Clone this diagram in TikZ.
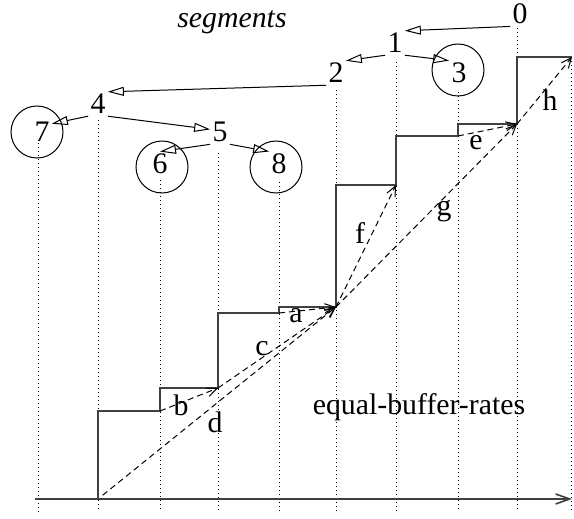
\documentclass[tikz,border=0pt]{standalone}
\usepackage{fontspec}
\setmainfont{Liberation Serif}
\usetikzlibrary{arrows.meta}
\begin{document}
\begin{tikzpicture}[x=0.5pt,y=-0.5pt,
  lab/.style={inner sep=1pt, font=\fontsize{14.9}{17}\selectfont},
  circ/.style={draw, circle, minimum size=26pt, inner sep=0pt, line width=0.5pt},
  dotline/.style={line width=0.5pt, dash pattern=on 0.5pt off 1.5pt},
  stair/.style={line width=0.8pt, black!75},
  dasharrow/.style={line width=0.5pt, dash pattern=on 3pt off 2pt, -{Straight Barb[length=5pt,width=4.5pt]}},
  tarrow/.style={line width=0.5pt, -{Triangle[open,length=8pt,width=4.5pt]}},
  axis/.style={line width=0.8pt, black!75, -{Straight Barb[length=7pt,width=5pt]}}
  ]
\useasboundingbox (0,0) rectangle (574,519);

% vertical dotted lines
\draw[dotline] (38,143) -- (38,512);
\draw[dotline] (98,120) -- (98,512);
\draw[dotline] (160,180) -- (160,512);
\draw[dotline] (218,153) -- (218,512);
\draw[dotline] (279,182) -- (279,512);
\draw[dotline] (336,90) -- (336,512);
\draw[dotline] (396,62) -- (396,512);
\draw[dotline] (458,92) -- (458,512);
\draw[dotline] (517,28) -- (517,512);
\draw[dotline] (571.5,57) -- (571.5,512);

% tree
\node[lab] (n0) at (520,14) {0};
\node[lab] (n1) at (395,43) {1};
\node[lab] (n2) at (336,73) {2};
\node[lab] (n3) at (459,73) {3};
\node[circ] (c3) at (458,70) {};
\node[lab] (n4) at (98,104) {4};
\node[lab] (n5) at (220,132) {5};
\node[lab] (n6) at (160,164) {6};
\node[circ] (c6) at (162,167) {};
\node[lab] (n7) at (42,132) {7};
\node[circ] (c7) at (37,132) {};
\node[lab] (n8) at (279,164) {8};
\node[circ] (c8) at (276,167) {};
\node[lab, font=\fontsize{14.9}{17}\selectfont\itshape] (seg) at (232,22) {segments};

\draw[tarrow] (n0.south west) -- (n1.north east);
\draw[tarrow] (n1.south west) -- (n2.north east);
\draw[tarrow] (n1.south east) -- (n3.north west);
\draw[tarrow] (n2.south west) -- (n4.north east);
\draw[tarrow] (n4.south west) -- (n7.40);
\draw[tarrow] (n4.south east) -- (n5.165);
\draw[tarrow] (n5.south west) -- (n6.north);
\draw[tarrow] (n5.south east) -- (n8.north west);

% staircase
\coordinate (s0) at (98,499);
\coordinate (s1) at (160,411);
\coordinate (s2) at (218,388);
\coordinate (s3) at (279,313);
\coordinate (s4) at (336,307);
\coordinate (s5) at (396,185);
\coordinate (s6) at (458,136);
\coordinate (s7) at (517,124);
\coordinate (s8) at (572,57);
\draw[stair] (s0) |- (s1) |- (s2) |- (s3) |- (s4) |- (s5) |- (s6) |- (s7) |- (s8);

% axis
\coordinate (ax0) at (35,499);
\coordinate (ax1) at (572,499);
\draw[axis] (ax0) -- (ax1);

% dashed arrows
\draw[dasharrow] (s1) -- (s2);
\draw[dasharrow] (s3) -- (s4);
\draw[dasharrow] (s2) -- (s4);
\draw[dasharrow, shorten <=3pt] (s0) -- (s4);
\draw[dasharrow] (s4) -- (s5);
\draw[dasharrow] (s4) -- (s7);
\draw[dasharrow] (s6) -- (s7);
\draw[dasharrow] (s7) -- (s8);

% labels
\node[lab] (la) at (296,316) {a};
\node[lab] (lb) at (181,405) {b};
\node[lab] (lc) at (262,349) {c};
\node[lab] (ld) at (215,422) {d};
\node[lab] (le) at (476,143) {e};
\node[lab] (lf) at (360,233) {f};
\node[lab] (lg) at (444,211) {g};
\node[lab] (lh) at (550,100) {h};
\node[lab] (ebr) at (419,407) {equal-buffer-rates};
\end{tikzpicture}
\end{document}
